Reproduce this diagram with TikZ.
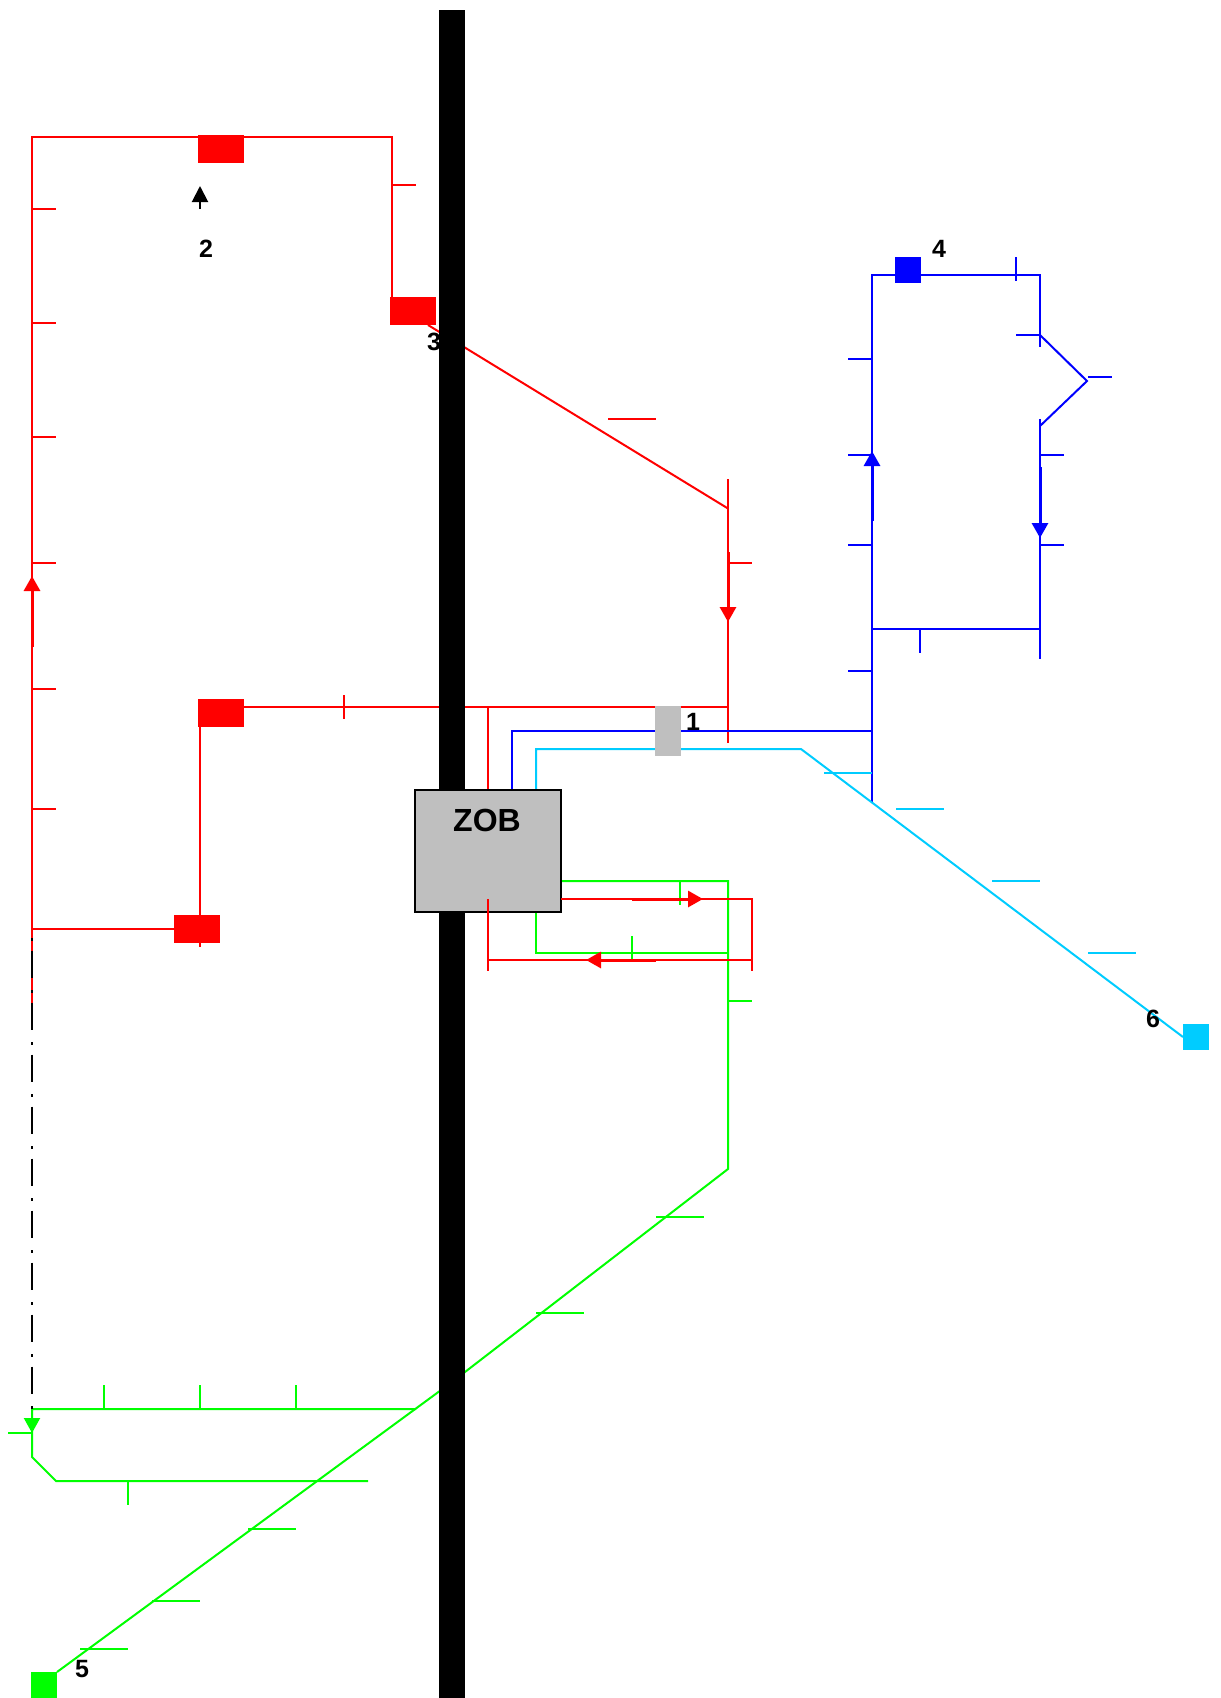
\documentclass[tikz,border=0pt]{standalone}
\usepackage{fontspec}
\setmainfont{Liberation Sans}
\usetikzlibrary{arrows.meta}
\definecolor{skyline}{HTML}{00CCFF}
\definecolor{zobgray}{HTML}{BFBFBF}
\tikzset{
 halt/.style={fill=#1,inner sep=0pt,outer sep=0pt},
 stopbox/.style={halt=#1,minimum width=46pt,minimum height=28pt},
 endbox/.style={halt=#1,minimum width=26pt,minimum height=26pt},
 num/.style={inner sep=0pt,font=\fontsize{25}{25}\selectfont\bfseries},
 flow/.style={line width=3pt,-{Triangle[length=15pt,width=16pt]}}
}
\begin{document}
\begin{tikzpicture}[x=1pt,y=-1pt,line width=2pt]
 \useasboundingbox (0,0) rectangle (1221,1698);
 % red line
 \coordinate (r1) at (32,137);
 \coordinate (r2) at (392,137);
 \coordinate (r3) at (428,325);
 \coordinate (r4) at (728,508.5);
 \coordinate (r5) at (728,707);
 \draw[red] (32,1006) -- (r1) -- (r2) -- (392,297);
 \draw[red] (32,928.5) -- (174,928.5);
 \draw[red] (200,727) -- (200,947);
 \draw[red] (244,707) -- (r5);
 \draw[red] (728,479) -- (728,743);
 \draw[red] (r3) -- (r4);
 \draw[red] (488,707) -- (488,800);
 \foreach \y in {209,323,437,563,689,809} \draw[red] (32,\y) -- ++(24,0);
 \draw[red] (392,185) -- ++(24,0);
 \draw[red] (608,419) -- ++(48,0);
 \draw[red] (728,563) -- ++(24,0);
 \draw[red] (344,695) -- ++(0,24);
 \draw[flow,red] (32,647) -- (32,576);
 \draw[flow,red] (728,552) -- (728,622);
 \node[stopbox=red] (top) at (221,149) {};
 \node[stopbox=red] (upper) at (413,311) {};
 \node[stopbox=red] (mid) at (221,713) {};
 \node[stopbox=red] (low) at (197,929) {};
 % blue line
 \coordinate (b1) at (872,275);
 \coordinate (b2) at (1040,275);
 \coordinate (b3) at (1040,335);
 \coordinate (b4) at (1087,381);
 \coordinate (b5) at (1040,426);
 \draw[blue] (512,800) -- (512,731) -- (872,731);
 \draw[blue] (872,803) -- (b1) -- (b2) -- (1040,347);
 \draw[blue] (b3) -- (b4) -- (b5);
 \draw[blue] (1040,419) -- (1040,659);
 \draw[blue] (872,629) -- (1040,629);
 \foreach \y in {359,455,545,671} \draw[blue] (848,\y) -- ++(24,0);
 \foreach \y in {455,545} \draw[blue] (1040,\y) -- ++(24,0);
 \draw[blue] (1016,335) -- ++(24,0);
 \draw[blue] (1088,377) -- ++(24,0);
 \draw[blue] (1016,257) -- ++(0,24);
 \draw[blue] (920,629) -- ++(0,24);
 \draw[flow,blue] (872,521) -- (872,451);
 \draw[flow,blue] (1040,467) -- (1040,538);
 \node[endbox=blue] (bluestop) at (908,269.5) {};
 % cyan line
 \node[endbox=skyline] (skystop) at (1196,1037) {};
 \coordinate (c1) at (801,749);
 \draw[skyline] (536,800) -- (536,749) -- (c1) -- (skystop.west);
 \foreach \x/\y in {824/773,896/809,992/881,1088/953} \draw[skyline] (\x,\y) -- ++(48,0);
 % green line
 \node[endbox=green] (greenstop) at (44,1685) {};
 \coordinate (g1) at (728,881);
 \coordinate (g2) at (728,1169);
 \coordinate (g3) at (452,1382);
 \coordinate (g4) at (416,1409);
 \draw[green] (550,881) -- (g1) -- (g2) -- (g3) -- (greenstop.north east);
 \draw[green] (536,900) -- (536,953) -- (728,953);
 \draw[green] (g4) -- (32,1409) -- (32,1457) -- (56,1481) -- (368,1481);
 \draw[green] (728,1001) -- ++(24,0);
 \draw[green] (680,881) -- ++(0,24);
 \draw[green] (632,936) -- ++(0,24);
 \foreach \x in {104,200,296} \draw[green] (\x,1385) -- ++(0,24);
 \draw[green] (128,1481) -- ++(0,24);
 \draw[green] (8,1433) -- ++(24,0);
 \foreach \x/\y in {656/1217,536/1313,248/1529,152/1601,80/1649} \draw[green] (\x,\y) -- ++(48,0);
 \draw[flow,green,line width=2pt] (32,1409) -- (32,1433);
 % connection to the far end
 \draw[line width=1.8pt,dash pattern=on 3pt off 9.7pt on 27.7pt off 11.6pt] (32,938) -- (32,1409);
 % direction and numbers
 \draw[-{Triangle[length=16pt,width=16pt]}] (200,209) -- (200,186);
 \node[num] (two) at (206,249) {2};
 \node[num] (three) at (434,342) {3};
 \node[num] (four) at (939,249) {4};
 \node[num] (five) at (82,1669) {5};
 \node[num] (six) at (1153,1019) {6};
 % main road
 \fill (439,9.5) rectangle (465,1698);
 % interchange
 \node[draw,fill=zobgray,line width=2pt,inner sep=0pt,outer sep=0pt,minimum width=146pt,minimum height=122pt] (zob) at (488,851) {};
 \node[inner sep=0pt,font=\fontsize{32}{32}\selectfont\bfseries] (zobtext) at (487,820) {ZOB};
 \draw[red] (561,899) -- (752,899) -- (752,971);
 \draw[flow,red] (632,899) -- (703,899);
 \draw[red] (488,899) -- (488,971);
 \draw[red] (488,960) -- (752,960);
 \draw[flow,red] (656,960) -- (586,960);
 \node[halt=zobgray,minimum width=26pt,minimum height=50pt] (gate) at (668,731) {};
 \node[num] (one) at (693,722) {1};
\end{tikzpicture}
\end{document}
